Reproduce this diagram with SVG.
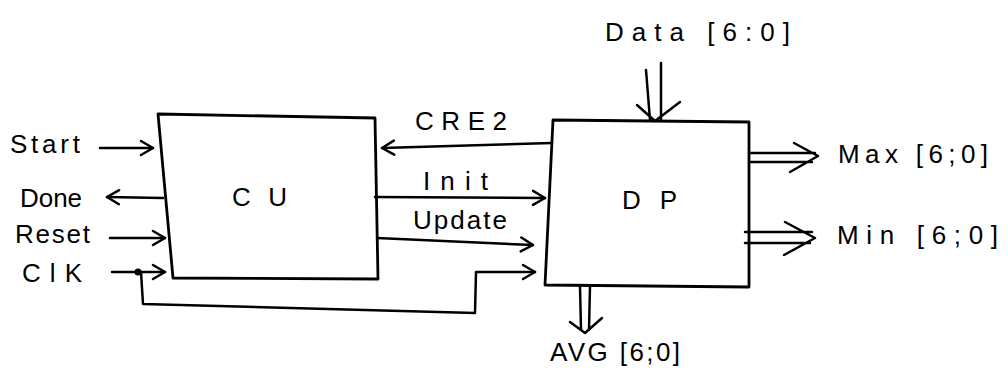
<svg xmlns="http://www.w3.org/2000/svg" width="1008" height="376" viewBox="0 0 1008 376">
<style>
.ln{fill:none;stroke:#000;stroke-width:2.5;stroke-linecap:round;stroke-linejoin:round}
.bx{fill:#fff;stroke:#000;stroke-width:2.8;stroke-linejoin:round}
.t{font-family:"Liberation Sans",Arial,sans-serif;font-size:26px;fill:#000}
</style>
<defs>
<marker id="ah" viewBox="0 0 16 18" refX="14" refY="9" markerWidth="16" markerHeight="18" orient="auto" markerUnits="userSpaceOnUse">
<path d="M2,2 L14,9 L2,16" fill="none" stroke="#000" stroke-width="2.5" stroke-linecap="round" stroke-linejoin="round"/>
</marker>
</defs>
<rect width="1008" height="376" fill="#fff"/>
<g id="CU">
<polygon class="bx" points="158,114 375,118 378,279 173,278"/>
<text class="t" x="232" y="206" textLength="55">C U</text>
</g>
<g id="DP">
<polygon class="bx" points="553,120 749,122 749,287 545,285"/>
<text class="t" x="622" y="209" textLength="55">D P</text>
</g>
<g id="start"><text class="t" x="10" y="153" textLength="70">Start</text></g>
<g id="done"><text class="t" x="20" y="207" textLength="62">Done</text></g>
<g id="reset"><text class="t" x="15" y="243" textLength="75">Reset</text></g>
<g id="clk"><text class="t" x="22" y="282" textLength="60">ClK</text></g>
<g id="data"><text class="t" x="605" y="41" textLength="185">Data [6:0]</text></g>
<g id="max"><text class="t" x="838" y="163" textLength="150">Max [6;0]</text></g>
<g id="min"><text class="t" x="837" y="244" textLength="161">Min [6;0]</text></g>
<g id="avg"><text class="t" x="550" y="361" textLength="130">AVG [6;0]</text></g>
<g id="connectors">
<path class="ln" d="M100,148 L153,148" marker-end="url(#ah)"/>
<path class="ln" d="M163,198 L107,197" marker-end="url(#ah)"/>
<path class="ln" d="M110,238 L165,238" marker-end="url(#ah)"/>
<path class="ln" d="M112,272 L165,272" marker-end="url(#ah)"/>
<circle cx="138" cy="272" r="3.5" fill="#000"/>
<path class="ln" d="M141,272 L143,304 L475,313 L476,272 L535,272" marker-end="url(#ah)"/>
<path class="ln" d="M552,143 L382,148" marker-end="url(#ah)"/>
<text class="t" x="415" y="130" textLength="92">CRE2</text>
<path class="ln" d="M375,197 L545,198" marker-end="url(#ah)"/>
<text class="t" x="423" y="190" textLength="65">Init</text>
<path class="ln" d="M377,238 L533,245" marker-end="url(#ah)"/>
<text class="t" x="413" y="229" textLength="94">Update</text>
<path class="ln" d="M646,70 L650,120 M661,63 L661,120 M637,105 L655,121 L680,102"/>
<path class="ln" d="M749,153 L815,153 M749,162 L812,162 M794,143 L818,156 L790,172"/>
<path class="ln" d="M745,232 L812,232 M745,243 L810,243 M785,222 L815,238 L784,255"/>
<path class="ln" d="M580,286 L581,330 M590,286 L589,330 M570,322 L585,333 L602,318"/>
</g>
</svg>
